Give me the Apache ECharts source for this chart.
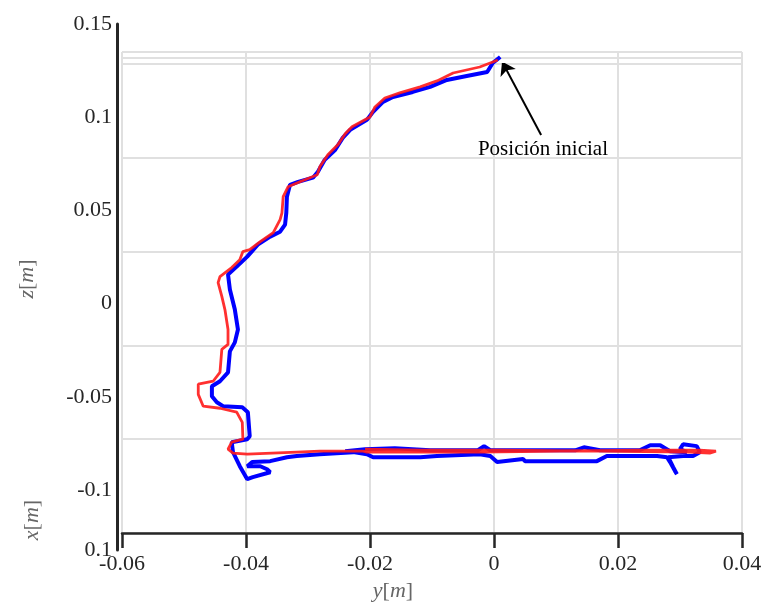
<!DOCTYPE html>
<html><head><meta charset="utf-8">
<script src="https://cdn.jsdelivr.net/npm/echarts@6/dist/echarts.min.js"></script>
<style>html,body{margin:0;padding:0;background:#fff}#c{width:767px;height:607px}</style>
</head><body><div id="c"></div>
<script>
// y[m] (horizontal) and z[m] (vertical) values
const blueY = [0.0010,-0.0002,-0.0011,-0.0044,-0.0076,-0.0103,-0.0131,-0.0163,-0.0179,-0.0195,-0.0205,-0.0232,-0.0244,-0.0256,-0.0273,-0.0284,-0.0292,-0.0316,-0.0329,-0.0334,-0.0335,-0.0337,-0.0345,-0.0361,-0.0381,-0.0398,-0.0415,-0.0429,-0.0426,-0.0418,-0.0413,-0.0418,-0.0426,-0.0429,-0.0442,-0.0455,-0.0455,-0.0447,-0.0437,-0.0406,-0.0397,-0.0394,-0.0398,-0.0423,-0.0421,-0.0410,-0.0398,-0.0389,-0.0361,-0.0366,-0.0377,-0.0398,-0.0390,-0.0361,-0.0334,-0.0318,-0.0281,-0.0227,-0.0205,-0.0195,-0.0119,-0.0092,-0.0023,-0.0006,0.0005,0.0047,0.0050,0.0166,0.0182,0.0263,0.0279,0.0284,0.0292,0.0295,0.0289,0.0281,0.0305,0.0321,0.0332,0.0327,0.0305,0.0300,0.0311,0.0284,0.0268,0.0252,0.0235,0.0171,0.0145,0.0131,0.0058,-0.0006,-0.0016,-0.0026,-0.0103,-0.0160,-0.0208,-0.0240];
const blueZ = [0.1537,0.1505,0.1457,0.1436,0.1415,0.1378,0.1351,0.1324,0.1298,0.1245,0.1202,0.1149,0.1106,0.1043,0.0989,0.0926,0.0894,0.0872,0.0856,0.0793,0.0707,0.0644,0.0606,0.0580,0.0537,0.0473,0.0420,0.0378,0.0298,0.0191,0.0085,0.0016,-0.0032,-0.0144,-0.0191,-0.0218,-0.0271,-0.0303,-0.0324,-0.0330,-0.0356,-0.0484,-0.0500,-0.0516,-0.0569,-0.0644,-0.0713,-0.0702,-0.0676,-0.0660,-0.0644,-0.0644,-0.0622,-0.0617,-0.0596,-0.0590,-0.0580,-0.0569,-0.0580,-0.0596,-0.0596,-0.0590,-0.0580,-0.0590,-0.0622,-0.0606,-0.0617,-0.0617,-0.0590,-0.0590,-0.0596,-0.0622,-0.0670,-0.0686,-0.0649,-0.0596,-0.0590,-0.0590,-0.0569,-0.0537,-0.0527,-0.0553,-0.0569,-0.0564,-0.0532,-0.0532,-0.0559,-0.0559,-0.0543,-0.0559,-0.0559,-0.0559,-0.0537,-0.0559,-0.0559,-0.0548,-0.0553,-0.0564];
const redY = [0.0006,-0.0002,-0.0023,-0.0066,-0.0092,-0.0119,-0.0152,-0.0176,-0.0192,-0.0200,-0.0229,-0.0240,-0.0252,-0.0268,-0.0281,-0.0285,-0.0313,-0.0332,-0.0340,-0.0342,-0.0345,-0.0356,-0.0377,-0.0394,-0.0405,-0.0410,-0.0423,-0.0442,-0.0445,-0.0439,-0.0434,-0.0429,-0.0429,-0.0439,-0.0442,-0.0453,-0.0477,-0.0477,-0.0469,-0.0442,-0.0415,-0.0406,-0.0405,-0.0423,-0.0429,-0.0421,-0.0398,-0.0318,-0.0281,-0.0211,-0.0205,-0.0023,0.0106,0.0235,0.0332,0.0358,0.0348,0.0316,0.0171,0.0010,-0.0119,-0.0208];
const redZ = [0.1521,0.1511,0.1484,0.1452,0.1410,0.1378,0.1346,0.1319,0.1271,0.1218,0.1165,0.1128,0.1069,0.1016,0.0952,0.0910,0.0872,0.0846,0.0793,0.0707,0.0670,0.0601,0.0553,0.0511,0.0500,0.0457,0.0415,0.0367,0.0335,0.0261,0.0191,0.0085,0.0005,-0.0021,-0.0144,-0.0191,-0.0207,-0.0261,-0.0324,-0.0335,-0.0356,-0.0410,-0.0500,-0.0516,-0.0553,-0.0574,-0.0580,-0.0569,-0.0564,-0.0564,-0.0569,-0.0569,-0.0564,-0.0559,-0.0559,-0.0564,-0.0574,-0.0569,-0.0564,-0.0559,-0.0559,-0.0553];
const yTicks = [-0.06,-0.04,-0.02,0,0.02,0.04];
const zTicks = [-0.1,-0.05,0,0.05,0.1,0.15];
const xTickLabel = '0.1';
const arrowFrom = [0.0076, 0.1122];
const arrowTo = [0.0013, 0.1513];
const noteAt = [0.0079, 0.1043];
const noteText = 'Posición inicial';

const FONT = 'Liberation Serif';
const blue = blueY.map((v,i)=>[v, blueZ[i]]);
const red = redY.map((v,i)=>[v, redZ[i]]);
const gridCol = '#e0e0e0';
const axisCol = '#262626';
const nameRich = {
  it:{fontFamily:FONT,fontStyle:'italic',fontSize:22,color:'#666'},
  n:{fontFamily:FONT,fontSize:22,color:'#666'}
};
const chart = echarts.init(document.getElementById('c'), null, {renderer:'canvas'});
chart.setOption({
  animation:false,
  backgroundColor:'#fff',
  grid:[
    {left:122, right:25, top:64, height:470},
    {left:117, width:2, top:24, height:466},
    {left:117, width:2, top:490, height:60},
    {left:122, right:25, top:52, height:12}
  ],
  xAxis:[
    {gridIndex:0, type:'value', min:yTicks[0], max:yTicks[yTicks.length-1], interval:0.02,
     axisLine:{show:true,onZero:false,lineStyle:{color:axisCol,width:2.5}},
     axisTick:{show:true,length:15,lineStyle:{color:axisCol,width:2.5}},
     axisLabel:{show:true,margin:20,color:axisCol,fontFamily:FONT,fontSize:22,
       formatter:v=>String(+v.toFixed(2))},
     splitLine:{show:true,lineStyle:{color:gridCol,width:2}},
     name:'{it|y}{n|[}{it|m}{n|]}', nameLocation:'middle', nameGap:47,
     nameTextStyle:{rich:nameRich, padding:[0,78,0,0]}},
    {gridIndex:1, type:'value', show:false},
    {gridIndex:2, type:'value', show:false},
    {gridIndex:3, type:'value', min:yTicks[0], max:yTicks[yTicks.length-1], interval:0.02,
     axisLine:{show:false}, axisTick:{show:false}, axisLabel:{show:false},
     splitLine:{show:true,lineStyle:{color:gridCol,width:2}}}
  ],
  yAxis:[
    {gridIndex:0, type:'value', min:zTicks[0], max:zTicks[zTicks.length-1], interval:0.05,
     axisLine:{show:false}, axisTick:{show:false}, axisLabel:{show:false},
     splitLine:{show:true,lineStyle:{color:gridCol,width:2}}},
    {gridIndex:1, type:'value', min:zTicks[0], max:zTicks[zTicks.length-1], interval:0.05,
     axisLine:{show:true,lineStyle:{color:axisCol,width:3}},
     axisTick:{show:false},
     axisLabel:{show:true,margin:5,color:axisCol,fontFamily:FONT,fontSize:22,
       formatter:v=>String(+v.toFixed(2))},
     splitLine:{show:false},
     name:'{it|z}{n|[}{it|m}{n|]}', nameLocation:'middle', nameGap:79,
     nameTextStyle:{rich:nameRich, padding:[0,44,0,0]}},
    {gridIndex:2, type:'value', min:0.1, max:0.15, interval:0.05,
     axisLine:{show:true,lineStyle:{color:axisCol,width:3}},
     axisTick:{show:false},
     axisLabel:{show:true,margin:5,color:axisCol,fontFamily:FONT,fontSize:22,showMaxLabel:false,
       formatter:v=>xTickLabel},
     splitLine:{show:false},
     name:'{it|x}{n|[}{it|m}{n|]}', nameLocation:'middle', nameGap:74,
     nameTextStyle:{rich:nameRich}},
    {gridIndex:3, type:'value', min:0, max:2, interval:1,
     axisLine:{show:false}, axisTick:{show:false}, axisLabel:{show:false},
     splitLine:{show:true,lineStyle:{color:gridCol,width:2}}}
  ],
  series:[
    {type:'line', xAxisIndex:0, yAxisIndex:0, data:blue, showSymbol:false, clip:false,
     lineStyle:{color:'#0000ff',width:4}, z:3},
    {type:'line', xAxisIndex:0, yAxisIndex:0, data:red, showSymbol:false, clip:false,
     lineStyle:{color:'#ff1a1a',width:2.8,opacity:0.9}, z:4,
     markPoint:{silent:true, symbol:'circle', symbolSize:1, itemStyle:{color:'rgba(0,0,0,0)'},
       label:{show:true,position:'inside',formatter:noteText,color:'#000',fontFamily:FONT,fontSize:21},
       data:[{coord:noteAt}]}},
    {type:'lines', coordinateSystem:'cartesian2d', xAxisIndex:0, yAxisIndex:0, z:6, silent:true,
     symbol:['none','arrow'], symbolSize:13,
     lineStyle:{color:'#000',width:2,opacity:1},
     data:[{coords:[arrowFrom, arrowTo]}]}
  ]
});
</script></body></html>
